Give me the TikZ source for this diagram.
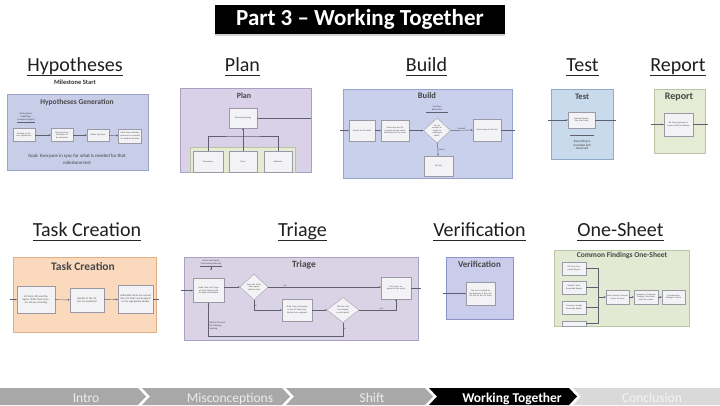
\documentclass[tikz,border=0pt]{standalone}
\usepackage{fontspec}
\setmainfont{Carlito}
\usetikzlibrary{arrows.meta,shapes.geometric,shadows}
\definecolor{hypfill}{HTML}{C8CEE8}\definecolor{hypline}{HTML}{9BA3C9}
\definecolor{planfill}{HTML}{D9D1E7}\definecolor{planline}{HTML}{A9A0C2}
\definecolor{greenfill}{HTML}{E6ECD3}\definecolor{greenline}{HTML}{B9C3A0}
\definecolor{buildfill}{HTML}{C9D0EB}\definecolor{buildline}{HTML}{9AA3CC}
\definecolor{testfill}{HTML}{C8DAEC}\definecolor{testline}{HTML}{8FAACB}
\definecolor{repfill}{HTML}{E5EBD4}\definecolor{repline}{HTML}{BAC4A2}
\definecolor{taskfill}{HTML}{FAD9BD}\definecolor{taskline}{HTML}{E0AE84}
\definecolor{trifill}{HTML}{DAD3E6}\definecolor{triline}{HTML}{AAA2C4}
\definecolor{verfill}{HTML}{C9CDEB}\definecolor{verline}{HTML}{8C93C6}
\definecolor{onefill}{HTML}{E3EAD4}\definecolor{oneline}{HTML}{BCC6A2}
\definecolor{boxfill}{HTML}{F3F3F5}\definecolor{boxline}{HTML}{9A9AA6}
\definecolor{lineclr}{HTML}{5E6070}
\definecolor{navgray}{HTML}{A8A8A8}\definecolor{navlight}{HTML}{D9D9D9}
\begin{document}
\begin{tikzpicture}[x=1pt,y=-1pt,
  hd/.style={font=\fontsize{20}{22}\selectfont, text=black!88, inner sep=0pt, anchor=base},
  ul/.style={draw=black!85, line width=1.1pt},
  fr/.style={draw, line width=0.5pt, inner sep=0pt},
  ftitle/.style={font=\bfseries\fontsize{#1}{#1}\selectfont, text=black!72, inner sep=0pt},
  ib/.style={draw=boxline, fill=boxfill, line width=0.35pt, inner sep=0.4pt, align=center, font=\fontsize{2.2}{2.6}\selectfont, text=black!70},
  dia/.style={diamond, draw=boxline, fill=boxfill, line width=0.35pt, inner sep=0pt, align=center, font=\fontsize{2.2}{2.6}\selectfont, text=black!70},
  lbl/.style={font=\fontsize{2.3}{2.7}\selectfont, text=black!75, inner sep=0.3pt, align=center},
  ln/.style={draw=lineclr, line width=0.45pt},
  arr/.style={ln, -{Stealth[length=2pt,width=1.8pt]}},
  nav/.style={font=\fontsize{13.5}{14}\selectfont, inner sep=0pt, anchor=base}
]
\useasboundingbox (0,0) rectangle (720,405);
\fill[white] (0,0) rectangle (720,405);

% ---------- title ----------
\node[fill=black, minimum width=290, minimum height=29, inner sep=0pt, text=white,
  font=\bfseries\fontsize{23}{24}\selectfont,
  drop shadow={shadow xshift=0pt, shadow yshift=-2pt, opacity=0.35}] (title) at (360,19) {Part 3 – Working Together};

% ---------- headings ----------
\node[hd] (hH) at (75,71) {Hypotheses};
\node[font=\bfseries\fontsize{6.5}{7}\selectfont, text=black!80] (ms) at (75,82) {Milestone Start};
\node[hd] (hP) at (242.5,71) {Plan};
\node[hd] (hB) at (426.5,71) {Build};
\node[hd] (hT) at (582.5,71) {Test};
\node[hd] (hR) at (678,71) {Report};
\node[hd] (hTC) at (87,236) {Task Creation};
\node[hd] (hTr) at (302.5,236) {Triage};
\node[hd] (hV) at (479.5,236) {Verification};
\node[hd] (hO) at (620.5,236) {One-Sheet};
\foreach \n in {hH,hP,hB,hT,hR,hTC,hTr,hV,hO}
  \draw[ul] ([yshift=-4.5pt]\n.base west) -- ([yshift=-4.5pt]\n.base east);

% ---------- Hypotheses Generation ----------
\node[fr, fill=hypfill, draw=hypline, minimum width=141, minimum height=76] (hyp) at (77.5,132) {};
\node[ftitle=7.5] (hypt) at (77,102) {Hypotheses Generation};
\node[lbl] (hyplab) at (26,117) {UX/Analytics/\\Publishing/\\Consumer Insights};
\draw[ln] ([yshift=-0.8pt]hyplab.south west) -- ([yshift=-0.8pt]hyplab.south east);
\node[ib, minimum width=22, minimum height=13, text width=20] (h1) at (24,135) {Meeting to discuss Hypotheses};
\node[ib, minimum width=22, minimum height=13, text width=20] (h2) at (62,135) {Determine key Questions to be answered};
\node[ib, minimum width=22, minimum height=12, text width=20] (h3) at (98,135) {Define Big Goals};
\node[ib, minimum width=23, minimum height=14, text width=21] (h4) at (130,136) {What data collection resources are needed for product decision};
\draw[arr] (h1) -- (h2);
\draw[arr] (h2) -- (h3);
\draw[arr] (h3) -- (h4);
\node[font=\fontsize{4.8}{7}\selectfont, text=black!75, align=center] (goal) at (77,159.5) {Goal: Everyone in sync for what is needed for that\\milestone test};

% ---------- Plan ----------
\node[fr, fill=planfill, draw=planline, minimum width=131, minimum height=84] (plan) at (245.5,130) {};
\node[ftitle=8] (plant) at (244,96) {Plan};
\node[ib, minimum width=28, minimum height=20, text width=26] (pm) at (243,118) {Planning Meeting};
\draw[ln] (pm.east) -- (pm.east -| plan.east);
\node[fr, fill=greenfill, draw=greenline, minimum width=105, minimum height=25] (pg) at (242.5,159.5) {};
\node[ib, minimum width=30, minimum height=21, text width=28] (p1) at (208,161.5) {Parameters};
\node[ib, minimum width=28, minimum height=21, text width=26] (p2) at (243,161.5) {Focus};
\node[ib, minimum width=28, minimum height=21, text width=26] (p3) at (278,161.5) {Audience};
\coordinate (pj) at (243,136);
\draw[ln] (p1.north) |- (pj) -| (p3.north);
\draw[arr] (p2.north) -- (pm.south);

% ---------- Build ----------
\node[fr, fill=buildfill, draw=buildline, minimum width=169, minimum height=89] (build) at (427.5,133.5) {};
\node[ftitle=8.5] (buildt) at (427,96) {Build};
\node[ib, minimum width=26, minimum height=21, text width=24] (b1) at (362,130.5) {Decide on the build};
\node[ib, minimum width=28, minimum height=21, text width=26] (b2) at (395,130.5) {Make sure the UX Manager knows which build and how to setup};
\node[lbl] (twod) at (437,108) {Two Days\\Before Test};
\draw[ln] ([yshift=-1.5pt]twod.south west) ++(-5,0) -- ([yshift=-1.5pt]twod.south east) -- ++(5,0);
\node[dia, minimum width=27, minimum height=25, text width=13] (bd) at (437,130.5) {Do we commit or switch to a different build?};
\node[ib, minimum width=28, minimum height=22, text width=26] (b4) at (487,130) {Get it setup in the Lab};
\node[ib, minimum width=29, minimum height=20, text width=27] (nt) at (438.5,166) {No Test};
\draw[arr] (b1.west -| build.west) ++(-3,0) -- (b1.west);
\draw[arr] (b1) -- (b2);
\draw[arr] (b2) -- (bd);
\draw[arr] (bd) -- node[lbl, above] {Commit} (b4);
\draw[arr] (bd) -- node[lbl, right] {Cancel} (nt);
\draw[ln] (b4.east) -- ([xshift=3pt]b4.east -| build.east);

% ---------- Test ----------
\node[fr, fill=testfill, draw=testline, minimum width=62, minimum height=70] (test) at (582,124) {};
\node[ftitle=8.5] (testt) at (582,96.5) {Test};
\node[ib, minimum width=27, minimum height=16, text width=25] (tb) at (581.5,120) {External People Play the Game};
\draw[arr] ([xshift=-3pt]tb.west -| test.west) -- (tb.west);
\draw[ln] (tb.east) -- ([xshift=3pt]tb.east -| test.east);
\node[font=\fontsize{3.2}{3.8}\selectfont, text=black!75, align=center] (evr) at (582,145) {Everything is\\recorded and\\observed};
\draw[ln] ([yshift=1.5pt]evr.north west) -- ([yshift=1.5pt]evr.north east);

% ---------- Report ----------
\node[fr, fill=repfill, draw=repline, minimum width=51, minimum height=64] (rep) at (679.5,121) {};
\node[ftitle=10] (rept) at (679,97) {Report};
\node[ib, minimum width=29, minimum height=23, text width=27] (rb) at (678.5,124.5) {UX Team generates a report with the findings};
\draw[arr] ([xshift=-3pt]rb.west -| rep.west) -- (rb.west);
\draw[ln] (rb.east) -- ([xshift=3pt]rb.east -| rep.east);

% ---------- Task Creation ----------
\node[fr, fill=taskfill, draw=taskline, minimum width=143, minimum height=75] (task) at (84.5,294.5) {};
\node[ftitle=11.5] (taskt) at (83,266.5) {Task Creation};
\node[ib, minimum width=38, minimum height=27, text width=34, font=\fontsize{2.6}{3.1}\selectfont] (t1) at (36,299.5) {UX Team, EP, Lead Designer, Strike Team Owners set-up a meeting};
\node[ib, minimum width=34, minimum height=24, text width=30, font=\fontsize{2.6}{3.1}\selectfont] (t2) at (87,300) {Results of the UX test are explained};
\node[ib, minimum width=35, minimum height=28, text width=32, font=\fontsize{2.6}{3.1}\selectfont] (t3) at (135.5,299) {Actionable Items are turned into Jira Tasks and assigned to the appropriate Bucket};
\draw[arr] ([xshift=-3pt]t1.west -| task.west) -- (t1.west);
\draw[arr] (t1) -- (t2);
\draw[arr] (t2) -- (t3);
\draw[ln] (t3.east) -- ([xshift=3pt]t3.east -| task.east);

% ---------- Triage ----------
\node[fr, fill=trifill, draw=triline, minimum width=234, minimum height=83] (tri) at (301,298.5) {};
\node[ftitle=9.5] (trit) at (304,264.5) {Triage};
\node[lbl] (trilab) at (211,262.5) {On the next Sprint\\Pre-Planning Meeting};
\draw[ln] ([yshift=-1pt]trilab.south west) -- ([yshift=-1pt]trilab.south east);
\node[ib, minimum width=31, minimum height=24, text width=29] (tr1) at (208.5,290.5) {Strike Team will Triage all Tasks labeled with UX-playtest/feedback};
\draw[arr] ([yshift=-1pt]trilab.south) -- ++(0,4);
\node[dia, minimum width=28, minimum height=26, text width=14] (td1) at (254,287) {Does the strike team agree with the task};
\node[ib, minimum width=30, minimum height=22, text width=28] (tfin) at (396,288) {The Task is assigned to this sprint};
\node[ib, minimum width=30, minimum height=22, text width=28] (tr2) at (297,310) {Strike Team will explain to the UX Team why the task was adjusted};
\node[dia, minimum width=32, minimum height=25, text width=16] (td2) at (343,310) {Will the task be assigned to this sprint?};
\draw[arr] ([xshift=-3pt]tr1.west -| tri.west) -- (tr1.west);
\draw[arr] (tr1.east |- td1) -- (td1.west);
\draw[arr] (td1.east) -- node[lbl, above, pos=0.15] {yes} (td1.east -| tfin.west);
\draw[arr] (td1.south) |- node[lbl, right, pos=0.3] {no} (tr2.west);
\draw[arr] (tr2) -- (td2);
\draw[arr] (td2.east) -| node[lbl, above, pos=0.3] {yes} (tfin.south);
\coordinate (tloop) at (343,336);
\draw[arr] (td2.south) -- node[lbl, right] {no} (tloop) -| (tr1.south);
\node[lbl, anchor=west, align=left] (wait) at (209,326) {Wait for the next\\Pre-Planning\\Meeting};
\draw[ln] (tfin.east) -- ([xshift=3pt]tfin.east -| tri.east);

% ---------- Verification ----------
\node[fr, fill=verfill, draw=verline, minimum width=67, minimum height=62] (ver) at (479.5,288) {};
\node[ftitle=9] (vert) at (479.5,264.5) {Verification};
\node[ib, minimum width=29, minimum height=23, text width=27] (vb) at (480.5,293.5) {The task is visited by the Business at the next UX Test by the UX Team};
\draw[arr] ([xshift=-3pt]vb.west -| ver.west) -- (vb.west);

% ---------- One-Sheet ----------
\node[fr, fill=onefill, draw=oneline, minimum width=135, minimum height=76] (one) at (621.5,288) {};
\node[ftitle=7.5] (onet) at (622,255.5) {Common Findings One-Sheet};
\node[ib, minimum width=24, minimum height=13, text width=22] (o1) at (574,268.5) {UX Team Generated Report};
\node[ib, minimum width=24, minimum height=13, text width=22] (o2) at (574,287.5) {Analytic Team Generated Report};
\node[ib, minimum width=24, minimum height=13, text width=22] (o3) at (574,307.5) {Consumer Insight Generated Report};
\node[ib, minimum width=24, minimum height=5, text width=22] (o4) at (574,323.5) {};
\coordinate (bus) at (598,297);
\draw[ln] (o1.east) -| (bus);
\draw[ln] (o2.east) -| (bus);
\draw[ln] (o3.east) -| (bus);
\draw[ln] (o4.east) -| (bus);
\node[ib, minimum width=23, minimum height=14, text width=21] (of1) at (617.5,297) {Find Common Threads across all areas};
\node[ib, minimum width=24, minimum height=14, text width=22] (of2) at (646,297) {Generate a Common Findings One-Sheet with the results};
\node[ib, minimum width=23, minimum height=14, text width=21] (of3) at (673.5,297) {Communicate findings to Team};
\draw[arr] (bus) -- (of1.west);
\draw[arr] (of1) -- (of2);
\draw[arr] (of2) -- (of3);

% ---------- navigation bar ----------
\fill[navgray] (0,388) -- (138,388) -- (146,396.5) -- (138,405) -- (0,405) -- cycle;
\fill[navgray] (142,388) -- (282,388) -- (290,396.5) -- (282,405) -- (142,405) -- (150,396.5) -- cycle;
\fill[navgray] (286,388) -- (425,388) -- (433,396.5) -- (425,405) -- (286,405) -- (294,396.5) -- cycle;
\fill[black] (429,388) -- (569,388) -- (577,396.5) -- (569,405) -- (429,405) -- (437,396.5) -- cycle;
\fill[navlight] (573,388) -- (720,388) -- (720,405) -- (573,405) -- (581,396.5) -- cycle;
\node[nav, text=white!93!black] (n1) at (86,402) {Intro};
\node[nav, text=white!93!black] (n2) at (230,402) {Misconceptions};
\node[nav, text=white!93!black] (n3) at (372,402) {Shift};
\node[nav, text=white, font=\bfseries\fontsize{13.5}{14}\selectfont] (n4) at (512,402) {Working Together};
\node[nav, text=white!96!black] (n5) at (652,402) {Conclusion};
\end{tikzpicture}
\end{document}
